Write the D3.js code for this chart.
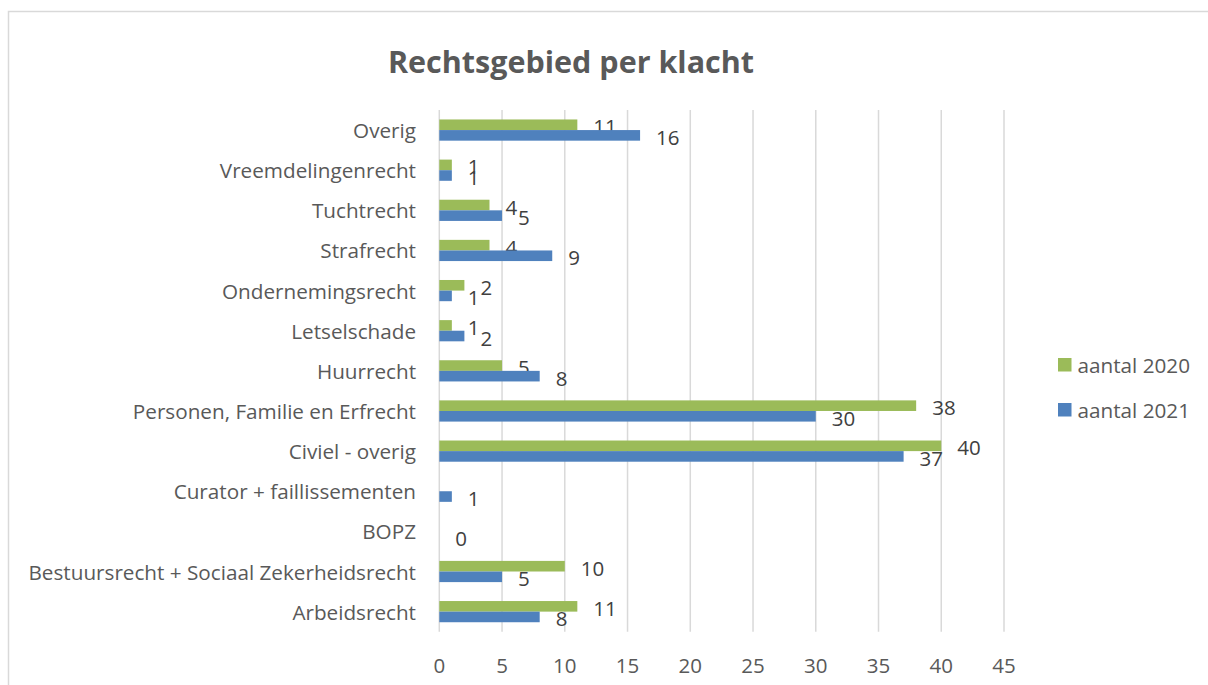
<!DOCTYPE html>
<html>
<head>
<meta charset="utf-8">
<script src="https://cdn.jsdelivr.net/npm/d3@7"></script>
<style>
  body { margin: 0; background: #fff; }
  svg { display: block; font-family: "Open Sans", sans-serif; }
</style>
</head>
<body>
<div id="chart"></div>
<script>
// categories, top to bottom
const categories = [
    "Overig",
    "Vreemdelingenrecht",
    "Tuchtrecht",
    "Strafrecht",
    "Ondernemingsrecht",
    "Letselschade",
    "Huurrecht",
    "Personen, Familie en Erfrecht",
    "Civiel - overig",
    "Curator + faillissementen",
    "BOPZ",
    "Bestuursrecht + Sociaal Zekerheidsrecht",
    "Arbeidsrecht"
];
const aantal2020 = [11, 1, 4, 4, 2, 1, 5, 38, 40, null, null, 10, 11];
const aantal2021 = [16, 1, 5, 9, 1, 2, 8, 30, 37, 1, 0, 5, 8];
const seriesNames = ["aantal 2020", "aantal 2021"];
const xTicks = [0, 5, 10, 15, 20, 25, 30, 35, 40, 45];

const width = 1208;
const height = 685;
const colors = ["#9bbb59", "#4f81bd"];
const textColor = "#595959";

const svg = d3.select("#chart")
    .append("svg")
    .attr("width", width)
    .attr("height", height);

// chart border
svg.append("rect")
    .attr("x", 8.5)
    .attr("y", 11.5)
    .attr("width", 1220)
    .attr("height", 700)
    .attr("fill", "none")
    .attr("stroke", "#d9d9d9")
    .attr("stroke-width", 1.5);

svg.append("text")
    .attr("x", 571)
    .attr("y", 73)
    .attr("text-anchor", "middle")
    .style("font-size", "30.5px")
    .style("font-weight", "bold")
    .style("fill", textColor)
    .text("Rechtsgebied per klacht");

const x = d3.scaleLinear()
    .domain([0, 45])
    .range([439.3, 1004]);

const y = d3.scaleBand()
    .domain(categories)
    .range([110, 631.7]);

const bw = y.bandwidth();
const barH = 10.6;
const sub = d3.scaleBand()
    .domain([0, 1])
    .range([bw / 2 - barH, bw / 2 + barH]);

// gridlines
svg.append("g")
    .selectAll("line")
    .data(xTicks)
    .join("line")
    .attr("x1", d => x(d))
    .attr("x2", d => x(d))
    .attr("y1", 110)
    .attr("y2", 631.7)
    .attr("stroke", "#d9d9d9")
    .attr("stroke-width", 1.5);

// tick labels
svg.append("g")
    .selectAll("text")
    .data(xTicks)
    .join("text")
    .attr("x", d => x(d))
    .attr("y", 665)
    .attr("text-anchor", "middle")
    .attr("dominant-baseline", "central")
    .style("font-size", "20.5px")
    .style("fill", textColor)
    .text(d => d);

// category labels
svg.append("g")
    .selectAll("text")
    .data(categories)
    .join("text")
    .attr("x", 416)
    .attr("y", d => y(d) + bw / 2)
    .attr("text-anchor", "end")
    .attr("dominant-baseline", "central")
    .style("font-size", "20.7px")
    .style("fill", textColor)
    .text(d => d);

const series = [aantal2020, aantal2021];

series.forEach((values, si) => {
    const pts = categories
        .map((c, i) => ({ cat: c, value: values[i] }))
        .filter(d => d.value !== null);

    svg.append("g")
        .selectAll("rect")
        .data(pts)
        .join("rect")
        .attr("x", x(0))
        .attr("y", d => y(d.cat) + sub(si))
        .attr("width", d => x(d.value) - x(0))
        .attr("height", sub.bandwidth())
        .attr("fill", colors[si]);

    svg.append("g")
        .selectAll("text")
        .data(pts)
        .join("text")
        .attr("x", d => x(d.value) + 16)
        .attr("y", d => y(d.cat) + sub(si) + sub.bandwidth() / 2 + 1.5)
        .attr("dominant-baseline", "central")
        .style("font-size", "20.5px")
        .style("fill", "#404040")
        .text(d => d.value);
});

// legend
const legend = svg.append("g")
    .attr("transform", "translate(1058, 358)");

legend.selectAll("rect")
    .data(seriesNames)
    .join("rect")
    .attr("x", 0)
    .attr("y", (_, i) => i * 45)
    .attr("width", 13.5)
    .attr("height", 13.5)
    .attr("fill", (_, i) => colors[i]);

legend.selectAll("text")
    .data(seriesNames)
    .join("text")
    .attr("x", 19.5)
    .attr("y", (_, i) => i * 45 + 7)
    .attr("dominant-baseline", "central")
    .style("font-size", "20.7px")
    .style("fill", textColor)
    .text(d => d);
</script>
</body>
</html>
